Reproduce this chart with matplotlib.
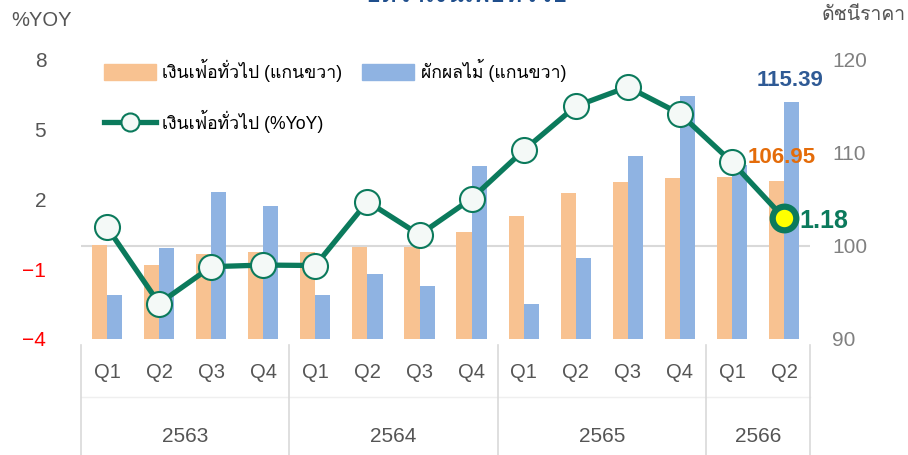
import matplotlib.pyplot as plt
import matplotlib.transforms as mtransforms
from matplotlib import font_manager
from matplotlib.ft2font import FT2Font
from matplotlib.patches import Patch
from matplotlib.lines import Line2D


# data
years = ['2563', '2564', '2565', '2566']
quarters = ['Q1', 'Q2', 'Q3', 'Q4', 'Q1', 'Q2', 'Q3', 'Q4',
            'Q1', 'Q2', 'Q3', 'Q4', 'Q1', 'Q2']
quarters_per_year = [4, 4, 4, 2]

# index (right axis)
cpi_index = [100.1, 97.9, 99.1, 99.3, 99.35, 99.9, 99.9, 101.5,
             103.2, 105.6, 106.8, 107.3, 107.35, 106.95]
fruit_veg_index = [94.7, 99.7, 105.8, 104.3, 94.7, 97.0, 95.7, 108.5,
                   93.7, 98.7, 109.6, 116.1, 108.7, 115.39]
# %YoY (left axis)
cpi_yoy = [0.79, -2.48, -0.90, -0.83, -0.85, 1.89, 0.47, 2.02,
           4.09, 5.98, 6.81, 5.66, 3.58, 1.18]

left_ticks = [-4, -1, 2, 5, 8]
right_ticks = [90, 100, 110, 120]

ORANGE = '#f8c291'
BLUE = '#8fb3e2'
GREEN = '#0b7a5c'
GREY = '#555555'


def find_thai_font():
    # look for any installed font that has Thai glyphs
    for f in font_manager.fontManager.ttflist:
        try:
            if 0x0E01 in FT2Font(f.fname).get_charmap():
                return f.name
        except Exception:
            pass
    return None


thai = find_thai_font()
families = ['Liberation Sans']
if thai:
    families.append(thai)
families.append('DejaVu Sans')
plt.rcParams['font.family'] = families

fig = plt.figure(figsize=(9.08, 4.55), dpi=100)
ax = fig.add_axes([0.0892, 0.255, 0.803, 0.615])
ax2 = ax.twinx()

x = list(range(len(quarters)))
w = 0.29
ax2.bar([i - w / 2 for i in x], [v - 90 for v in cpi_index], w, bottom=90,
        color=ORANGE, zorder=2)
ax2.bar([i + w / 2 for i in x], [v - 90 for v in fruit_veg_index], w, bottom=90,
        color=BLUE, zorder=2)
ax2.axhline(100, color='#d9d9d9', lw=1.5, zorder=1)

# line must sit above the bars -> draw it on top axes
ax.set_zorder(ax2.get_zorder() + 1)
ax.patch.set_visible(False)
ax.plot(x, cpi_yoy, color=GREEN, lw=3.8, marker='o', ms=18,
        mfc='#f4f9f7', mec=GREEN, mew=1.5, zorder=3)
ax.plot(x[-1], cpi_yoy[-1], marker='o', ms=17, mfc='#ffff00', mec=GREEN,
        mew=4.5, zorder=4)

ax.set_xlim(-0.5, len(quarters) - 0.5)
ax.set_ylim(-4, 8)
ax2.set_ylim(90, 120)
ax.set_yticks(left_ticks)
ax2.set_yticks(right_ticks)
ax.set_xticks([])
for a in (ax, ax2):
    for s in a.spines.values():
        s.set_visible(False)
    a.tick_params(length=0)
ax.tick_params(axis='y', labelsize=15, labelcolor=GREY, pad=25)
for lbl, t in zip(ax.get_yticklabels(), left_ticks):
    if t < 0:
        lbl.set_color('#ff0000')
ax2.tick_params(axis='y', labelsize=15, labelcolor='#808080', pad=16)

# two-level category axis
trans = mtransforms.blended_transform_factory(ax.transData, ax.transAxes)
for i, q in enumerate(quarters):
    ax.text(i, -0.12, q, transform=trans, ha='center', va='center',
            fontsize=14.5, color=GREY)
ax.plot([-0.5, len(quarters) - 0.5], [-0.207, -0.207], transform=trans,
        color='#efefef', lw=1, clip_on=False)
start = 0
for yr, n in zip(years, quarters_per_year):
    ax.text(start + (n - 1) / 2, -0.35, yr, transform=trans, ha='center',
            va='center', fontsize=15, color=GREY)
    ax.plot([start - 0.5, start - 0.5], [-0.02, -0.42], transform=trans,
            color='#d9d9d9', lw=1.2, clip_on=False)
    start += n
ax.plot([start - 0.5, start - 0.5], [-0.02, -0.42], transform=trans,
        color='#d9d9d9', lw=1.2, clip_on=False)

# value labels
ax2.annotate(f'{fruit_veg_index[-1]:.2f}', (x[-1], fruit_veg_index[-1]),
             xytext=(4, 15.5), textcoords='offset points', ha='center',
             va='center', fontsize=16, fontweight='bold', color='#2f5a95')
ax2.annotate(f'{cpi_index[-1]:.2f}', (x[-1], cpi_index[-1]),
             xytext=(-2, 16.5), textcoords='offset points', ha='center',
             va='center', fontsize=16, fontweight='bold', color='#e46c0a')
ax.annotate(f'{cpi_yoy[-1]:.2f}', (x[-1], cpi_yoy[-1]),
            xytext=(11, -2), textcoords='offset points', ha='left',
            va='center', fontsize=18, fontweight='bold', color=GREEN)

# axis titles and (cut-off) chart title
fig.text(0.012, 0.955, '%YOY', fontsize=14.5, color=GREY, va='center')
fig.text(0.997, 0.967, 'ดัชนีราคา', fontsize=14, color=GREY, va='center',
         ha='right')
fig.text(0.514, 1.016, 'อัตราเงินเฟ้อทั่วไป', fontsize=18.5, fontweight='bold',
         color='#1f4e8c', ha='center', va='center')

handles = [Patch(color=ORANGE),
           Line2D([], [], color=GREEN, lw=3.8, marker='o', ms=13,
                  mfc='#f4f9f7', mec=GREEN, mew=1.5),
           Patch(color=BLUE)]
labels = ['เงินเฟ้อทั่วไป (แกนขวา)', 'เงินเฟ้อทั่วไป (%YoY)',
          'ผักผลไม้ (แกนขวา)']
fig.legend(handles, labels, ncol=2, loc='upper left',
           bbox_to_anchor=(0.097, 0.905), frameon=False, fontsize=12.7,
           handlelength=2.95, handleheight=1.0, handletextpad=0.35,
           labelspacing=1.55, columnspacing=1.14, numpoints=1)

fig.savefig('out.png', dpi=100)
